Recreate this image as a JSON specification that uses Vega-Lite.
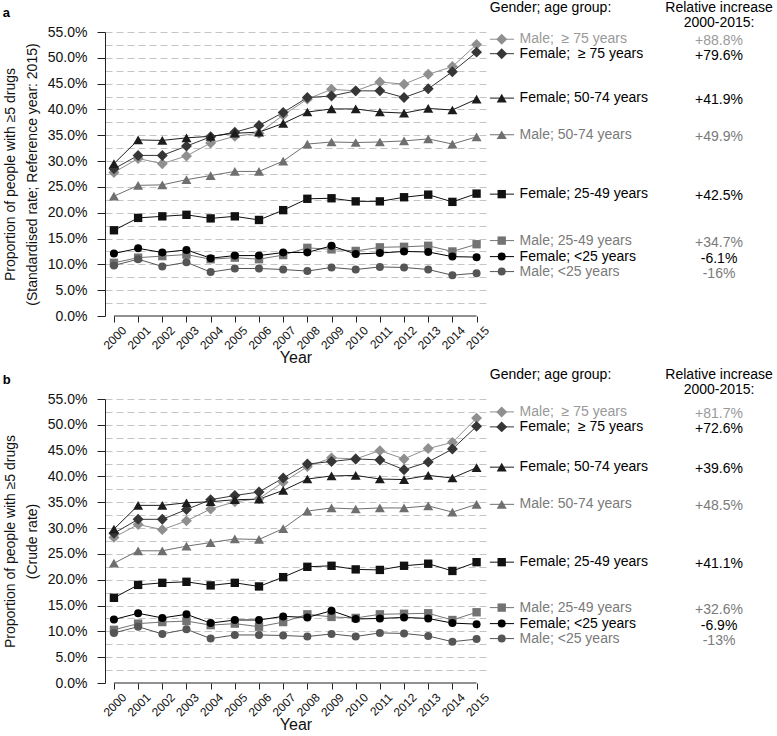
{
  "$schema": "https://vega.github.io/schema/vega-lite/v6.json",
  "padding": {"left": 2, "top": 1, "right": 0, "bottom": 0},
  "datasets": {
    "series": [
      {"panel":"a","year":2000,"Male ≥75":27.8,"Female ≥75":28.5,"Female 50-74":29.5,"Male 50-74":23.2,"Female 25-49":16.6,"Male 25-49":10.3,"Female <25":12.1,"Male <25":9.8},
      {"panel":"a","year":2001,"Male ≥75":30.5,"Female ≥75":31.1,"Female 50-74":34.1,"Male 50-74":25.3,"Female 25-49":19.0,"Male 25-49":11.3,"Female <25":13.1,"Male <25":11.0},
      {"panel":"a","year":2002,"Male ≥75":29.5,"Female ≥75":31.1,"Female 50-74":34.0,"Male 50-74":25.4,"Female 25-49":19.3,"Male 25-49":11.6,"Female <25":12.3,"Male <25":9.6},
      {"panel":"a","year":2003,"Male ≥75":31.0,"Female ≥75":32.9,"Female 50-74":34.5,"Male 50-74":26.4,"Female 25-49":19.6,"Male 25-49":11.9,"Female <25":12.8,"Male <25":10.4},
      {"panel":"a","year":2004,"Male ≥75":33.5,"Female ≥75":34.7,"Female 50-74":34.8,"Male 50-74":27.2,"Female 25-49":18.9,"Male 25-49":11.0,"Female <25":11.2,"Male <25":8.5},
      {"panel":"a","year":2005,"Male ≥75":34.8,"Female ≥75":35.6,"Female 50-74":35.4,"Male 50-74":28.0,"Female 25-49":19.3,"Male 25-49":11.3,"Female <25":11.7,"Male <25":9.2},
      {"panel":"a","year":2006,"Male ≥75":35.4,"Female ≥75":36.9,"Female 50-74":35.6,"Male 50-74":28.0,"Female 25-49":18.6,"Male 25-49":11.0,"Female <25":11.7,"Male <25":9.2},
      {"panel":"a","year":2007,"Male ≥75":38.9,"Female ≥75":39.4,"Female 50-74":37.3,"Male 50-74":30.0,"Female 25-49":20.5,"Male 25-49":11.8,"Female <25":12.3,"Male <25":9.0},
      {"panel":"a","year":2008,"Male ≥75":42.0,"Female ≥75":42.3,"Female 50-74":39.5,"Male 50-74":33.3,"Female 25-49":22.7,"Male 25-49":13.2,"Female <25":12.3,"Male <25":8.7},
      {"panel":"a","year":2009,"Male ≥75":43.9,"Female ≥75":42.6,"Female 50-74":40.1,"Male 50-74":33.7,"Female 25-49":22.8,"Male 25-49":12.9,"Female <25":13.6,"Male <25":9.4},
      {"panel":"a","year":2010,"Male ≥75":43.6,"Female ≥75":43.6,"Female 50-74":40.1,"Male 50-74":33.6,"Female 25-49":22.2,"Male 25-49":12.6,"Female <25":12.0,"Male <25":9.0},
      {"panel":"a","year":2011,"Male ≥75":45.3,"Female ≥75":43.6,"Female 50-74":39.5,"Male 50-74":33.7,"Female 25-49":22.2,"Male 25-49":13.3,"Female <25":12.2,"Male <25":9.5},
      {"panel":"a","year":2012,"Male ≥75":44.9,"Female ≥75":42.3,"Female 50-74":39.3,"Male 50-74":33.9,"Female 25-49":23.0,"Male 25-49":13.4,"Female <25":12.5,"Male <25":9.4},
      {"panel":"a","year":2013,"Male ≥75":46.8,"Female ≥75":44.0,"Female 50-74":40.2,"Male 50-74":34.3,"Female 25-49":23.5,"Male 25-49":13.6,"Female <25":12.4,"Male <25":9.0},
      {"panel":"a","year":2014,"Male ≥75":48.3,"Female ≥75":47.3,"Female 50-74":39.9,"Male 50-74":33.3,"Female 25-49":22.1,"Male 25-49":12.5,"Female <25":11.5,"Male <25":7.9},
      {"panel":"a","year":2015,"Male ≥75":52.6,"Female ≥75":51.1,"Female 50-74":42.0,"Male 50-74":34.7,"Female 25-49":23.7,"Male 25-49":13.9,"Female <25":11.4,"Male <25":8.3},
      {"panel":"b","year":2000,"Male ≥75":28.2,"Female ≥75":29.0,"Female 50-74":29.8,"Male 50-74":23.2,"Female 25-49":16.5,"Male 25-49":10.3,"Female <25":12.3,"Male <25":9.7},
      {"panel":"b","year":2001,"Male ≥75":30.7,"Female ≥75":31.7,"Female 50-74":34.4,"Male 50-74":25.6,"Female 25-49":19.0,"Male 25-49":11.5,"Female <25":13.5,"Male <25":10.9},
      {"panel":"b","year":2002,"Male ≥75":29.7,"Female ≥75":31.7,"Female 50-74":34.4,"Male 50-74":25.6,"Female 25-49":19.4,"Male 25-49":11.8,"Female <25":12.6,"Male <25":9.5},
      {"panel":"b","year":2003,"Male ≥75":31.4,"Female ≥75":33.6,"Female 50-74":34.9,"Male 50-74":26.5,"Female 25-49":19.6,"Male 25-49":12.0,"Female <25":13.3,"Male <25":10.4},
      {"panel":"b","year":2004,"Male ≥75":33.7,"Female ≥75":35.5,"Female 50-74":35.1,"Male 50-74":27.2,"Female 25-49":18.9,"Male 25-49":11.2,"Female <25":11.6,"Male <25":8.6},
      {"panel":"b","year":2005,"Male ≥75":35.1,"Female ≥75":36.3,"Female 50-74":35.5,"Male 50-74":27.9,"Female 25-49":19.4,"Male 25-49":11.5,"Female <25":12.2,"Male <25":9.3},
      {"panel":"b","year":2006,"Male ≥75":35.7,"Female ≥75":37.0,"Female 50-74":35.6,"Male 50-74":27.8,"Female 25-49":18.7,"Male 25-49":10.9,"Female <25":12.2,"Male <25":9.3},
      {"panel":"b","year":2007,"Male ≥75":38.9,"Female ≥75":39.7,"Female 50-74":37.3,"Male 50-74":29.9,"Female 25-49":20.5,"Male 25-49":11.8,"Female <25":12.9,"Male <25":9.2},
      {"panel":"b","year":2008,"Male ≥75":41.9,"Female ≥75":42.4,"Female 50-74":39.5,"Male 50-74":33.3,"Female 25-49":22.5,"Male 25-49":13.3,"Female <25":12.7,"Male <25":9.0},
      {"panel":"b","year":2009,"Male ≥75":43.6,"Female ≥75":42.9,"Female 50-74":40.1,"Male 50-74":33.9,"Female 25-49":22.7,"Male 25-49":12.8,"Female <25":14.0,"Male <25":9.5},
      {"panel":"b","year":2010,"Male ≥75":43.4,"Female ≥75":43.4,"Female 50-74":40.2,"Male 50-74":33.7,"Female 25-49":22.0,"Male 25-49":12.6,"Female <25":12.4,"Male <25":9.0},
      {"panel":"b","year":2011,"Male ≥75":45.0,"Female ≥75":43.2,"Female 50-74":39.5,"Male 50-74":33.9,"Female 25-49":21.9,"Male 25-49":13.3,"Female <25":12.5,"Male <25":9.7},
      {"panel":"b","year":2012,"Male ≥75":43.4,"Female ≥75":41.3,"Female 50-74":39.4,"Male 50-74":33.9,"Female 25-49":22.7,"Male 25-49":13.4,"Female <25":12.7,"Male <25":9.6},
      {"panel":"b","year":2013,"Male ≥75":45.4,"Female ≥75":42.8,"Female 50-74":40.2,"Male 50-74":34.3,"Female 25-49":23.1,"Male 25-49":13.5,"Female <25":12.5,"Male <25":9.1},
      {"panel":"b","year":2014,"Male ≥75":46.6,"Female ≥75":45.3,"Female 50-74":39.7,"Male 50-74":33.1,"Female 25-49":21.7,"Male 25-49":12.2,"Female <25":11.6,"Male <25":8.0},
      {"panel":"b","year":2015,"Male ≥75":51.3,"Female ≥75":49.7,"Female 50-74":41.7,"Male 50-74":34.6,"Female 25-49":23.4,"Male 25-49":13.7,"Female <25":11.4,"Male <25":8.5}
    ],
    "labels": [
      {"panel":"a","group":"Male ≥75","label":"Male;\u00a0 ≥ 75 years","increase":"+88.8%","labelY":53.6},
      {"panel":"a","group":"Female ≥75","label":"Female;\u00a0 ≥ 75 years","increase":"+79.6%","labelY":50.8},
      {"panel":"a","group":"Female 50-74","label":"Female; 50-74 years","increase":"+41.9%","labelY":42.2},
      {"panel":"a","group":"Male 50-74","label":"Male; 50-74 years","increase":"+49.9%","labelY":35.1},
      {"panel":"a","group":"Female 25-49","label":"Female; 25-49 years","increase":"+42.5%","labelY":23.6},
      {"panel":"a","group":"Male 25-49","label":"Male; 25-49 years","increase":"+34.7%","labelY":14.6},
      {"panel":"a","group":"Female <25","label":"Female; <25 years","increase":"-6.1%","labelY":11.5},
      {"panel":"a","group":"Male <25","label":"Male; <25 years","increase":"-16%","labelY":8.6},
      {"panel":"b","group":"Male ≥75","label":"Male;\u00a0 ≥ 75 years","increase":"+81.7%","labelY":52.5},
      {"panel":"b","group":"Female ≥75","label":"Female;\u00a0 ≥ 75 years","increase":"+72.6%","labelY":49.6},
      {"panel":"b","group":"Female 50-74","label":"Female; 50-74 years","increase":"+39.6%","labelY":41.8},
      {"panel":"b","group":"Male 50-74","label":"Male: 50-74 years","increase":"+48.5%","labelY":34.6},
      {"panel":"b","group":"Female 25-49","label":"Female; 25-49 years","increase":"+41.1%","labelY":23.4},
      {"panel":"b","group":"Male 25-49","label":"Male; 25-49 years","increase":"+32.6%","labelY":14.6},
      {"panel":"b","group":"Female <25","label":"Female; <25 years","increase":"-6.9%","labelY":11.5},
      {"panel":"b","group":"Male <25","label":"Male; <25 years","increase":"-13%","labelY":8.6}
    ]
  },
  "spacing": 2,
  "vconcat": [
    {
      "width": 381,
      "height": 284,
      "resolve": {"axis": {"x": "independent", "y": "independent"}},
      "layer": [
        {
          "data": {"name": "series"},
          "transform": [
            {"filter": "datum.panel === 'a'"},
            {"fold": ["Male ≥75","Female ≥75","Female 50-74","Male 50-74","Female 25-49","Male 25-49","Female <25","Male <25"], "as": ["group","value"]}
          ],
          "mark": {"type": "line", "strokeWidth": 1},
          "encoding": {
            "x": {"field": "year", "type": "quantitative",
              "scale": {"domain": [1999.63, 2015.39], "nice": false, "zero": false},
              "axis": {"values": [2000,2001,2002,2003,2004,2005,2006,2007,2008,2009,2010,2011,2012,2013,2014,2015],
                "format": "d", "labelAngle": -45, "labelAlign": "right", "labelBaseline": "middle",
                "labelFontSize": 12, "labelOffset": 10, "labelPadding": 6, "tickSize": 6,
                "domain": false, "grid": false, "labelOverlap": false, "labelFlush": false,
                "title": "Year", "titleFontSize": 16, "titlePadding": -2}},
            "y": {"field": "value", "type": "quantitative",
              "scale": {"domain": [0, 55], "nice": false, "zero": true},
              "axis": {"values": [0,2.5,5,7.5,10,12.5,15,17.5,20,22.5,25,27.5,30,32.5,35,37.5,40,42.5,45,47.5,50,52.5,55],
                "labelExpr": "datum.value % 5 === 0 ? format(datum.value / 100, '.1%') : ''",
                "labelFontSize": 14, "tickSize": 8, "labelPadding": 10, "labelOverlap": false, "labelFlush": false,
                "tickOpacity": {"condition": {"test": "datum.value % 5 !== 0", "value": 0}, "value": 1},
                "grid": true, "gridDash": [7, 4], "gridColor": "#c4c4c4",
                "gridOpacity": {"condition": {"test": "datum.value === 0", "value": 0}, "value": 1},
                "title": ["Proportion of people with ≥5 drugs", "(Standardised rate; Reference year: 2015)"],
                "titleFontSize": 14, "titleLineHeight": 22, "titlePadding": 8}},
            "color": {"field": "group", "type": "nominal",
              "scale": {"domain": ["Male ≥75","Female ≥75","Female 50-74","Male 50-74","Female 25-49","Male 25-49","Female <25","Male <25"],
                "range": ["#8f8f8f","#363636","#1c1c1c","#6f6f6f","#111111","#737373","#000000","#555555"]}}
          }
        },
        {
          "data": {"name": "series"},
          "transform": [
            {"filter": "datum.panel === 'a'"},
            {"fold": ["Male ≥75","Female ≥75","Female 50-74","Male 50-74","Female 25-49","Male 25-49","Female <25","Male <25"], "as": ["group","value"]}
          ],
          "mark": {"type": "point", "filled": true, "opacity": 1},
          "encoding": {
            "x": {"field": "year", "type": "quantitative", "axis": null},
            "y": {"field": "value", "type": "quantitative", "axis": null},
            "color": {"field": "group", "type": "nominal"},
            "shape": {"field": "group", "type": "nominal",
              "scale": {"domain": ["Male ≥75","Female ≥75","Female 50-74","Male 50-74","Female 25-49","Male 25-49","Female <25","Male <25"],
                "range": ["diamond","diamond","triangle-up","triangle-up","square","square","circle","circle"]}},
            "size": {"condition": [
              {"test": "indexof(datum.group, '≥75') >= 0", "value": 120},
              {"test": "indexof(datum.group, '50-74') >= 0", "value": 100},
              {"test": "indexof(datum.group, '25-49') >= 0", "value": 70}], "value": 64}
          }
        },
        {
          "data": {"values": [{}]},
          "mark": {"type": "rule", "color": "#222", "strokeWidth": 1},
          "encoding": {"x": {"datum": 2000, "axis": null}, "x2": {"datum": 2015}, "y": {"datum": 0, "axis": null}}
        },
        {
          "data": {"name": "labels"},
          "transform": [{"filter": "datum.panel === 'a'"}],
          "mark": {"type": "rule", "strokeWidth": 1},
          "encoding": {"x": {"datum": 2015.55, "axis": null}, "x2": {"datum": 2016.55},
            "y": {"field": "labelY", "type": "quantitative", "axis": null},
            "color": {"field": "group", "type": "nominal"}}
        },
        {
          "data": {"name": "labels"},
          "transform": [{"filter": "datum.panel === 'a'"}],
          "mark": {"type": "point", "filled": true, "opacity": 1},
          "encoding": {"x": {"datum": 2016.04, "axis": null},
            "y": {"field": "labelY", "type": "quantitative", "axis": null},
            "color": {"field": "group", "type": "nominal"},
            "shape": {"field": "group", "type": "nominal"},
            "size": {"condition": [
              {"test": "indexof(datum.group, '≥75') >= 0", "value": 120},
              {"test": "indexof(datum.group, '50-74') >= 0", "value": 100},
              {"test": "indexof(datum.group, '25-49') >= 0", "value": 70}], "value": 64}}
        },
        {
          "data": {"name": "labels"},
          "transform": [{"filter": "datum.panel === 'a'"}],
          "mark": {"type": "text", "align": "left", "baseline": "middle", "fontSize": 14},
          "encoding": {"x": {"datum": 2016.78, "axis": null},
            "y": {"field": "labelY", "type": "quantitative", "axis": null},
            "text": {"field": "label"},
            "color": {"condition": [
              {"test": "datum.group === 'Male ≥75'", "value": "#999999"},
              {"test": "indexof(datum.group, 'Male') === 0", "value": "#7a7a7a"}], "value": "#000000"}}
        },
        {
          "data": {"name": "labels"},
          "transform": [{"filter": "datum.panel === 'a'"}],
          "mark": {"type": "text", "align": "center", "baseline": "middle", "fontSize": 14, "dy": 2},
          "encoding": {"x": {"datum": 2025.03, "axis": null},
            "y": {"field": "labelY", "type": "quantitative", "axis": null},
            "text": {"field": "increase"},
            "color": {"condition": [
              {"test": "datum.group === 'Male ≥75'", "value": "#999999"},
              {"test": "indexof(datum.group, 'Male') === 0", "value": "#7a7a7a"}], "value": "#000000"}}
        },
        {
          "data": {"values": [{}]},
          "mark": {"type": "text", "align": "left", "baseline": "middle", "fontSize": 14, "color": "#000"},
          "encoding": {"x": {"datum": 2015.55, "axis": null}, "y": {"datum": 59.6, "axis": null}, "text": {"value": "Gender; age group:"}}
        },
        {
          "data": {"values": [{}]},
          "mark": {"type": "text", "align": "center", "baseline": "middle", "fontSize": 14, "lineHeight": 15, "color": "#000"},
          "encoding": {"x": {"datum": 2025.03, "axis": null}, "y": {"datum": 59.6, "axis": null}, "text": {"value": ["Relative increase", "2000-2015:"]}}
        },
        {
          "data": {"values": [{}]},
          "mark": {"type": "text", "align": "left", "baseline": "middle", "fontSize": 13, "fontWeight": "bold", "color": "#000"},
          "encoding": {"x": {"datum": 1995.4, "axis": null}, "y": {"datum": 58.6, "axis": null}, "text": {"value": "a"}}
        }
      ]
    },
    {
      "width": 381,
      "height": 284,
      "resolve": {"axis": {"x": "independent", "y": "independent"}},
      "layer": [
        {
          "data": {"name": "series"},
          "transform": [
            {"filter": "datum.panel === 'b'"},
            {"fold": ["Male ≥75","Female ≥75","Female 50-74","Male 50-74","Female 25-49","Male 25-49","Female <25","Male <25"], "as": ["group","value"]}
          ],
          "mark": {"type": "line", "strokeWidth": 1},
          "encoding": {
            "x": {"field": "year", "type": "quantitative",
              "scale": {"domain": [1999.63, 2015.39], "nice": false, "zero": false},
              "axis": {"values": [2000,2001,2002,2003,2004,2005,2006,2007,2008,2009,2010,2011,2012,2013,2014,2015],
                "format": "d", "labelAngle": -45, "labelAlign": "right", "labelBaseline": "middle",
                "labelFontSize": 12, "labelOffset": 10, "labelPadding": 6, "tickSize": 6,
                "domain": false, "grid": false, "labelOverlap": false, "labelFlush": false,
                "title": "Year", "titleFontSize": 16, "titlePadding": -2}},
            "y": {"field": "value", "type": "quantitative",
              "scale": {"domain": [0, 55], "nice": false, "zero": true},
              "axis": {"values": [0,2.5,5,7.5,10,12.5,15,17.5,20,22.5,25,27.5,30,32.5,35,37.5,40,42.5,45,47.5,50,52.5,55],
                "labelExpr": "datum.value % 5 === 0 ? format(datum.value / 100, '.1%') : ''",
                "labelFontSize": 14, "tickSize": 8, "labelPadding": 10, "labelOverlap": false, "labelFlush": false,
                "tickOpacity": {"condition": {"test": "datum.value % 5 !== 0", "value": 0}, "value": 1},
                "grid": true, "gridDash": [7, 4], "gridColor": "#c4c4c4",
                "gridOpacity": {"condition": {"test": "datum.value === 0", "value": 0}, "value": 1},
                "title": ["Proportion of people with ≥5 drugs", "(Crude rate)"],
                "titleFontSize": 14, "titleLineHeight": 22, "titlePadding": 8}},
            "color": {"field": "group", "type": "nominal",
              "scale": {"domain": ["Male ≥75","Female ≥75","Female 50-74","Male 50-74","Female 25-49","Male 25-49","Female <25","Male <25"],
                "range": ["#8f8f8f","#363636","#1c1c1c","#6f6f6f","#111111","#737373","#000000","#555555"]}}
          }
        },
        {
          "data": {"name": "series"},
          "transform": [
            {"filter": "datum.panel === 'b'"},
            {"fold": ["Male ≥75","Female ≥75","Female 50-74","Male 50-74","Female 25-49","Male 25-49","Female <25","Male <25"], "as": ["group","value"]}
          ],
          "mark": {"type": "point", "filled": true, "opacity": 1},
          "encoding": {
            "x": {"field": "year", "type": "quantitative", "axis": null},
            "y": {"field": "value", "type": "quantitative", "axis": null},
            "color": {"field": "group", "type": "nominal"},
            "shape": {"field": "group", "type": "nominal",
              "scale": {"domain": ["Male ≥75","Female ≥75","Female 50-74","Male 50-74","Female 25-49","Male 25-49","Female <25","Male <25"],
                "range": ["diamond","diamond","triangle-up","triangle-up","square","square","circle","circle"]}},
            "size": {"condition": [
              {"test": "indexof(datum.group, '≥75') >= 0", "value": 120},
              {"test": "indexof(datum.group, '50-74') >= 0", "value": 100},
              {"test": "indexof(datum.group, '25-49') >= 0", "value": 70}], "value": 64}
          }
        },
        {
          "data": {"values": [{}]},
          "mark": {"type": "rule", "color": "#222", "strokeWidth": 1},
          "encoding": {"x": {"datum": 2000, "axis": null}, "x2": {"datum": 2015}, "y": {"datum": 0, "axis": null}}
        },
        {
          "data": {"name": "labels"},
          "transform": [{"filter": "datum.panel === 'b'"}],
          "mark": {"type": "rule", "strokeWidth": 1},
          "encoding": {"x": {"datum": 2015.55, "axis": null}, "x2": {"datum": 2016.55},
            "y": {"field": "labelY", "type": "quantitative", "axis": null},
            "color": {"field": "group", "type": "nominal"}}
        },
        {
          "data": {"name": "labels"},
          "transform": [{"filter": "datum.panel === 'b'"}],
          "mark": {"type": "point", "filled": true, "opacity": 1},
          "encoding": {"x": {"datum": 2016.04, "axis": null},
            "y": {"field": "labelY", "type": "quantitative", "axis": null},
            "color": {"field": "group", "type": "nominal"},
            "shape": {"field": "group", "type": "nominal"},
            "size": {"condition": [
              {"test": "indexof(datum.group, '≥75') >= 0", "value": 120},
              {"test": "indexof(datum.group, '50-74') >= 0", "value": 100},
              {"test": "indexof(datum.group, '25-49') >= 0", "value": 70}], "value": 64}}
        },
        {
          "data": {"name": "labels"},
          "transform": [{"filter": "datum.panel === 'b'"}],
          "mark": {"type": "text", "align": "left", "baseline": "middle", "fontSize": 14},
          "encoding": {"x": {"datum": 2016.78, "axis": null},
            "y": {"field": "labelY", "type": "quantitative", "axis": null},
            "text": {"field": "label"},
            "color": {"condition": [
              {"test": "datum.group === 'Male ≥75'", "value": "#999999"},
              {"test": "indexof(datum.group, 'Male') === 0", "value": "#7a7a7a"}], "value": "#000000"}}
        },
        {
          "data": {"name": "labels"},
          "transform": [{"filter": "datum.panel === 'b'"}],
          "mark": {"type": "text", "align": "center", "baseline": "middle", "fontSize": 14, "dy": 2},
          "encoding": {"x": {"datum": 2025.03, "axis": null},
            "y": {"field": "labelY", "type": "quantitative", "axis": null},
            "text": {"field": "increase"},
            "color": {"condition": [
              {"test": "datum.group === 'Male ≥75'", "value": "#999999"},
              {"test": "indexof(datum.group, 'Male') === 0", "value": "#7a7a7a"}], "value": "#000000"}}
        },
        {
          "data": {"values": [{}]},
          "mark": {"type": "text", "align": "left", "baseline": "middle", "fontSize": 14, "color": "#000"},
          "encoding": {"x": {"datum": 2015.55, "axis": null}, "y": {"datum": 59.6, "axis": null}, "text": {"value": "Gender; age group:"}}
        },
        {
          "data": {"values": [{}]},
          "mark": {"type": "text", "align": "center", "baseline": "middle", "fontSize": 14, "lineHeight": 15, "color": "#000"},
          "encoding": {"x": {"datum": 2025.03, "axis": null}, "y": {"datum": 59.6, "axis": null}, "text": {"value": ["Relative increase", "2000-2015:"]}}
        },
        {
          "data": {"values": [{}]},
          "mark": {"type": "text", "align": "left", "baseline": "middle", "fontSize": 13, "fontWeight": "bold", "color": "#000"},
          "encoding": {"x": {"datum": 1995.4, "axis": null}, "y": {"datum": 58.6, "axis": null}, "text": {"value": "b"}}
        }
      ]
    }
  ],
  "config": {
    "font": "Liberation Sans",
    "view": {"stroke": null},
    "legend": {"disable": true},
    "axis": {"domainColor": "#222", "tickColor": "#222", "labelColor": "#111", "titleColor": "#111", "titleFontWeight": "normal"}
  }
}
